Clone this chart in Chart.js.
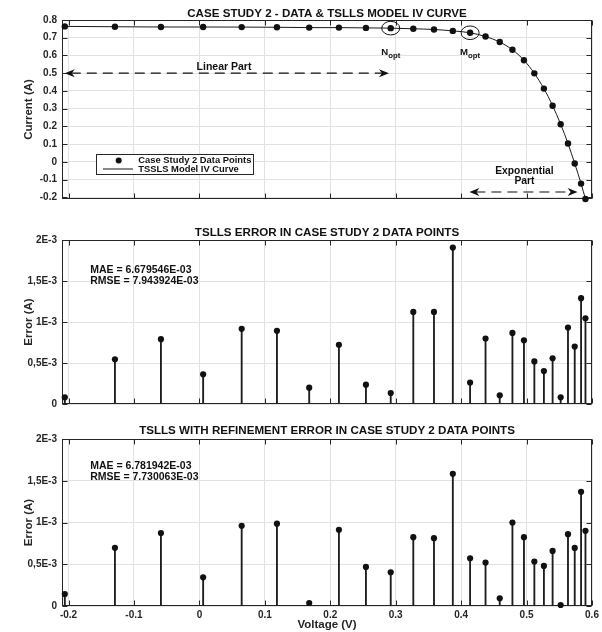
<!DOCTYPE html>
<html><head><meta charset="utf-8">
<script src="https://cdn.jsdelivr.net/npm/chart.js@4.4.1/dist/chart.umd.min.js"></script>
<style>
html,body{margin:0;padding:0;background:#fff;}
#wrap{position:relative;width:602px;height:632px;overflow:hidden;}
.pane{position:absolute;left:0;width:602px;}
</style></head><body>
<div id="wrap">
<div class="pane" style="top:0;height:210px"><canvas id="c1"></canvas></div>
<div class="pane" style="top:210px;height:210px"><canvas id="c2"></canvas></div>
<div class="pane" style="top:420px;height:212px"><canvas id="c3"></canvas></div>
</div>
<script>
// ---------------- data ----------------
const voltage = [-0.2057,-0.1291,-0.0588,0.0057,0.0646,0.1185,0.1678,0.2132,0.2545,0.2924,0.3269,0.3585,0.3873,0.4137,0.4373,0.4590,0.4784,0.4960,0.5119,0.5265,0.5398,0.5521,0.5633,0.5736,0.5833,0.5900];
const current = [0.7640,0.7620,0.7605,0.7605,0.7600,0.7590,0.7570,0.7570,0.7555,0.7540,0.7505,0.7465,0.7385,0.7280,0.7065,0.6755,0.6320,0.5730,0.4990,0.4130,0.3165,0.2120,0.1035,-0.0100,-0.1230,-0.2100];
const errorTSLLS = [0.081e-3,0.546e-3,0.790e-3,0.363e-3,0.917e-3,0.892e-3,0.199e-3,0.722e-3,0.236e-3,0.134e-3,1.123e-3,1.123e-3,1.908e-3,0.261e-3,0.799e-3,0.106e-3,0.867e-3,0.777e-3,0.519e-3,0.402e-3,0.558e-3,0.081e-3,0.932e-3,0.700e-3,1.290e-3,1.046e-3];
const errorRefined = [0.144e-3,0.697e-3,0.873e-3,0.343e-3,0.960e-3,0.986e-3,0.036e-3,0.912e-3,0.468e-3,0.404e-3,0.824e-3,0.812e-3,1.584e-3,0.572e-3,0.520e-3,0.092e-3,1.000e-3,0.824e-3,0.532e-3,0.480e-3,0.660e-3,0.012e-3,0.860e-3,0.696e-3,1.368e-3,0.900e-3];
const xTicks = [-0.2,-0.1,0,0.1,0.2,0.3,0.4,0.5,0.6];
const xTickLabels = ['-0.2','-0.1','0','0.1','0.2','0.3','0.4','0.5','0.6'];
const iTicks = [-0.2,-0.1,0,0.1,0.2,0.3,0.4,0.5,0.6,0.7,0.8];
const iTickLabels = ['-0.2','-0.1','0','0.1','0.2','0.3','0.4','0.5','0.6','0.7','0.8'];
const errTicks = [0,0.5e-3,1e-3,1.5e-3,2e-3];
const errTickLabels = ['0','0,5E-3','1E-3','1,5E-3','2E-3'];
const optNames = ['N','M'];
const optVoltage = [0.2924,0.4137];
const optCurrent = [0.7540,0.7280];
const optLabelCurrent = 0.605;
const linearArrow = {from:-0.2058,to:0.2897,current:0.5,textV:0.0376,textI:0.516};
const expArrow = {from:0.4126,to:0.578,current:-0.1705,textV:0.4967,textI:[-0.0705,-0.125]};
const titles = ['CASE STUDY 2 - DATA & TSLLS MODEL IV CURVE','TSLLS ERROR IN CASE STUDY 2 DATA POINTS','TSLLS WITH REFINEMENT ERROR IN CASE STUDY 2 DATA POINTS'];
const stats2 = ['MAE = 6.679546E-03','RMSE = 7.943924E-03'];
const stats3 = ['MAE = 6.781942E-03','RMSE = 7.730063E-03'];
const legendLabels = ['Case Study 2 Data Points','TSSLS Model IV Curve'];

// ---------------- style ----------------
const FF = '"Liberation Sans", Arial, Helvetica, sans-serif';
const INK = '#262626';
const GRID = '#e2e2e2';
Chart.defaults.font.family = FF;
Chart.defaults.color = INK;

function xScale(showLabels){
  return {
    type:'linear', min:-0.21, max:0.6, offset:false,
    afterBuildTicks(s){ s.ticks = xTicks.map(v=>({value:v})); },
    afterFit(s){ s.height = showLabels ? 26 : 0; },
    ticks:{display:showLabels, autoSkip:false, maxRotation:0, padding:3,
      font:{size:10, weight:'bold'}, color:INK, callback:(v,i)=>xTickLabels[i]},
    grid:{color:GRID, drawTicks:false, lineWidth:1, offset:false},
    border:{display:false},
    title:{display:showLabels, text:'Voltage (V)', font:{size:11.5, weight:'bold'}, color:INK, padding:{top:0,bottom:0}}
  };
}
function yScale(min,max,ticks,labels,title){
  return {
    type:'linear', min, max,
    afterBuildTicks(s){ s.ticks = ticks.map(v=>({value:v})); },
    afterFit(s){ s.width = 62; },
    ticks:{autoSkip:false, padding:5, font:{size:10, weight:'bold'}, color:INK, callback:(v,i)=>labels[i]},
    grid:{color:GRID, drawTicks:false, lineWidth:1},
    border:{display:false},
    title:{display:true, text:title, font:{size:11.5, weight:'bold'}, color:INK, padding:{top:22,bottom:0}}
  };
}
const framePlugin = {
  id:'frame',
  beforeDatasetsDraw(chart){
    const {ctx, chartArea:a, scales:{x,y}} = chart;
    const L=Math.round(a.left)+0.5, R=Math.round(a.right)-0.5, T=Math.round(a.top)+0.5, B=Math.round(a.bottom)-0.5;
    ctx.save(); ctx.strokeStyle=INK; ctx.lineWidth=1; ctx.beginPath();
    x.ticks.forEach(t=>{const p=Math.round(x.getPixelForValue(t.value))+0.5; ctx.moveTo(p,B); ctx.lineTo(p,B-5); ctx.moveTo(p,T); ctx.lineTo(p,T+5);});
    y.ticks.forEach(t=>{const p=Math.round(y.getPixelForValue(t.value))+0.5; ctx.moveTo(L,p); ctx.lineTo(L+5,p); ctx.moveTo(R,p); ctx.lineTo(R-5,p);});
    ctx.stroke(); ctx.strokeRect(L,T,R-L,B-T); ctx.restore();
  }
};
function drawTitle(chart, text, baseline){
  const {ctx, chartArea:a} = chart;
  ctx.save(); ctx.fillStyle='#111'; ctx.font=`bold 11.6px ${FF}`; ctx.textAlign='center'; ctx.textBaseline='alphabetic';
  ctx.fillText(text,(a.left+a.right)/2,baseline); ctx.restore();
}
function arrowHead(ctx,x,y,dir){
  ctx.beginPath(); ctx.moveTo(x,y); ctx.lineTo(x-dir*10,y-4); ctx.lineTo(x-dir*7,y); ctx.lineTo(x-dir*10,y+4); ctx.closePath(); ctx.fill();
}
function dashedArrow(ctx,x1,x2,y){
  ctx.save(); ctx.setLineDash([10,6]); ctx.lineWidth=1.2; ctx.beginPath(); ctx.moveTo(x1+6,y); ctx.lineTo(x2-6,y); ctx.stroke(); ctx.restore();
  arrowHead(ctx,x1,y,-1); arrowHead(ctx,x2,y,1);
}
const ann1 = {
  id:'ann1',
  afterDatasetsDraw(chart){
    const {ctx, scales:{x,y}} = chart;
    drawTitle(chart,titles[0],17.3);
    ctx.save(); ctx.fillStyle='#111'; ctx.strokeStyle='#111'; ctx.lineWidth=1;
    optNames.forEach((n,i)=>{
      const px=x.getPixelForValue(optVoltage[i]), py=y.getPixelForValue(optCurrent[i]);
      ctx.beginPath(); ctx.ellipse(px,py,9,6.8,0,0,Math.PI*2); ctx.stroke();
      ctx.font=`bold 9.6px ${FF}`; const w1=ctx.measureText(n).width;
      ctx.font=`bold 7.8px ${FF}`; const w2=ctx.measureText('opt').width;
      const x0=px-(w1+w2)/2, by=y.getPixelForValue(optLabelCurrent);
      ctx.textAlign='left'; ctx.textBaseline='alphabetic';
      ctx.font=`bold 9.6px ${FF}`; ctx.fillText(n,x0,by);
      ctx.font=`bold 7.8px ${FF}`; ctx.fillText('opt',x0+w1,by+3.5);
    });
    // linear part
    ctx.font=`bold 10.5px ${FF}`; ctx.textAlign='center';
    ctx.fillText('Linear Part',x.getPixelForValue(linearArrow.textV),y.getPixelForValue(linearArrow.textI));
    dashedArrow(ctx,x.getPixelForValue(linearArrow.from),x.getPixelForValue(linearArrow.to),y.getPixelForValue(linearArrow.current));
    ctx.font=`bold 10.3px ${FF}`;
    ctx.fillText('Exponential',x.getPixelForValue(expArrow.textV),y.getPixelForValue(expArrow.textI[0]));
    ctx.fillText('Part',x.getPixelForValue(expArrow.textV),y.getPixelForValue(expArrow.textI[1]));
    dashedArrow(ctx,x.getPixelForValue(expArrow.from),x.getPixelForValue(expArrow.to),y.getPixelForValue(expArrow.current));
    // legend
    ctx.fillStyle='#fff'; ctx.fillRect(96.5,154.5,157,20);
    ctx.strokeStyle=INK; ctx.strokeRect(96.5,154.5,157,20);
    ctx.fillStyle='#111'; ctx.beginPath(); ctx.arc(118.7,160.6,3,0,Math.PI*2); ctx.fill();
    ctx.strokeStyle='#555'; ctx.lineWidth=1.4; ctx.beginPath(); ctx.moveTo(103,169); ctx.lineTo(133,169); ctx.stroke();
    ctx.font=`bold 9.4px ${FF}`; ctx.textAlign='left';
    ctx.fillText(legendLabels[0],138.3,163.4);
    ctx.fillText(legendLabels[1],138.3,171.8);
    ctx.restore();
  }
};
function annErr(idx, stats, titleBase, statBase){
  return {
    id:'annErr'+idx,
    afterDatasetsDraw(chart){
      const {ctx} = chart;
      drawTitle(chart,titles[idx],titleBase);
      ctx.save(); ctx.fillStyle='#111'; ctx.font=`bold 10.5px ${FF}`; ctx.textAlign='left';
      ctx.fillText(stats[0],90.2,statBase); ctx.fillText(stats[1],90.2,statBase+10.8);
      ctx.restore();
    }
  };
}
const pts = voltage.map((v,i)=>({x:v,y:current[i]}));
new Chart(document.getElementById('c1'),{
  type:'scatter',
  data:{datasets:[
    {type:'line', label:legendLabels[1], data:pts, borderColor:'#1a1a1a', borderWidth:1, pointRadius:0, cubicInterpolationMode:'monotone', fill:false, order:2},
    {type:'scatter', label:legendLabels[0], data:pts, pointRadius:3.2, pointBackgroundColor:'#111', pointBorderColor:'#111', pointBorderWidth:0, clip:false, order:1}
  ]},
  options:{responsive:true, maintainAspectRatio:false, animation:false, events:[],
    layout:{padding:{top:20,bottom:7,left:0,right:10}},
    plugins:{legend:{display:false}, tooltip:{enabled:false}},
    scales:{x:xScale(false), y:yScale(-0.21,0.8,iTicks,iTickLabels,'Current (A)')}
  },
  plugins:[framePlugin, ann1]
});
function errChart(id, errs, idx, stats, padTop, padBottom, showX, titleBase, statBase){
  const d = voltage.map((v,i)=>({x:v,y:errs[i]}));
  new Chart(document.getElementById(id),{
    type:'scatter',
    data:{datasets:[
      {type:'bar', data:d, backgroundColor:'#1e1e1e', borderWidth:0, barThickness:1.2, order:2},
      {type:'scatter', data:d, pointRadius:3.1, pointBackgroundColor:'#111', pointBorderColor:'#111', pointBorderWidth:0, clip:false, order:1}
    ]},
    options:{responsive:true, maintainAspectRatio:false, animation:false, events:[],
      layout:{padding:{top:padTop,bottom:padBottom,left:0,right:10}},
      plugins:{legend:{display:false}, tooltip:{enabled:false}},
      scales:{x:xScale(showX), y:yScale(0,2e-3,errTicks,errTickLabels,'Error (A)')}
    },
    plugins:[framePlugin, annErr(idx, stats, titleBase, statBase)]
  });
}
errChart('c2', errorTSLLS, 1, stats2, 30, 16, false, 26, 63.3);
errChart('c3', errorRefined, 2, stats3, 19, 0, true, 14.3, 49.3);
</script>
</body></html>
